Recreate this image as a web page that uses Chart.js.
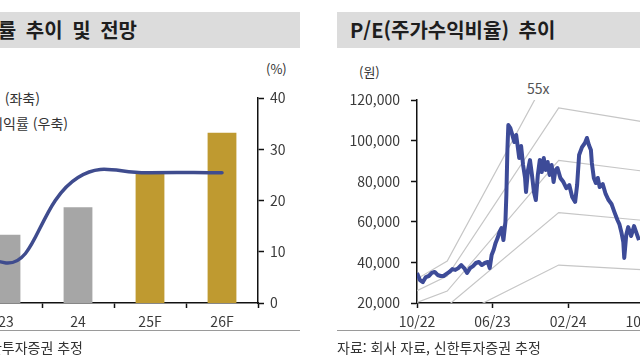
<!DOCTYPE html>
<html lang="ko">
<head>
<meta charset="UTF-8">
<title>영업이익률 추이 및 전망 / P/E(주가수익비율) 추이</title>
<script src="https://cdn.jsdelivr.net/npm/chart.js"></script>
<style>
  html, body { margin: 0; padding: 0; }
  body {
    width: 640px; height: 360px; position: relative; overflow: hidden; background: #fff;
    font-family: "Noto Sans CJK KR", "Noto Sans", sans-serif; color: #333;
  }
  .band { position: absolute; top: 12px; height: 36px; background: #dcdcdc; }
  .title { position: absolute; top: 12px; line-height: 36px; font-size: 20px; font-weight: bold; color: #1e1e1e; white-space: nowrap; word-spacing: 4px; }
  .rule { position: absolute; top: 330px; height: 1px; background: #9a9a9a; }
  .src { position: absolute; top: 338px; line-height: 18px; font-size: 14px; white-space: nowrap; color: #333; }
  .note { position: absolute; line-height: 18px; font-size: 14px; white-space: nowrap; color: #333; }
  .box { position: absolute; top: 60px; }
</style>
</head>
<body>
  <!-- left panel -->
  <div class="band" style="left:0;width:300px"></div>
  <div class="title" id="leftTitle" style="right:503px">영업이익률 추이 및 전망</div>
  <div class="note" style="right:600px;top:89px">매출액 (좌축)</div>
  <div class="note" style="right:572px;top:114px">영업이익률 (우축)</div>
  <div class="note" style="left:266px;top:60px;font-size:13px">(%)</div>
  <div class="box" style="left:-150px"><canvas id="marginChart" width="450" height="280"></canvas></div>
  <div class="rule" style="left:0;width:300px"></div>
  <div class="src" style="right:557px">자료: 회사 자료, 신한투자증권 추정</div>

  <!-- right panel -->
  <div class="band" style="left:337px;width:303px"></div>
  <div class="title" style="left:350px">P/E(주가수익비율) 추이</div>
  <div class="note" style="left:359px;top:63px;font-size:13px">(원)</div>
  <div class="note" style="left:527px;top:79px;color:#555">55x</div>
  <div class="box" style="left:330px"><canvas id="peChart" width="337" height="280"></canvas></div>
  <div class="rule" style="left:337px;width:303px"></div>
  <div class="src" style="left:337px">자료: 회사 자료, 신한투자증권 추정</div>

<script>
// ---- left chart data (연도, 매출액 좌축 / 영업이익률 우축 %) ----
const years = ['22', '23', '24', '25F', '26F'];
const salesValues = [16.0, 13.3, 18.7, 25.4, 33.2];
const marginValues = [27.0, 7.8, 24.5, 25.4, 25.4];
const marginTicks = [0, 10, 20, 30, 40];

// ---- right chart data (months from 10/22, 주가 원) ----
const xTickPos = [0, 8, 16, 24];
const xTickLabels = ['10/22', '06/23', '02/24', '10/24'];
const priceTicks = [20000, 40000, 60000, 80000, 100000, 120000];

const priceMonths = [
  0.00, 0.31, 0.62, 0.94, 1.25, 1.56, 1.87, 2.18, 2.50, 2.81,
  3.12, 3.43, 3.74, 4.06, 4.37, 4.68, 4.99, 5.30, 5.62, 5.93,
  6.24, 6.55, 6.86, 7.18, 7.49, 7.70, 7.90, 8.11, 8.32, 8.53,
  8.74, 8.94, 9.15, 9.36, 9.46, 9.57, 9.67, 9.88, 10.09, 10.30,
  10.50, 10.71, 10.82, 11.02, 11.23, 11.44, 11.54, 11.75, 11.96, 12.17,
  12.38, 12.58, 12.79, 13.00, 13.21, 13.42, 13.62, 13.83, 14.04, 14.25,
  14.46, 14.66, 14.87, 15.18, 15.50, 15.81, 16.12, 16.43, 16.74, 16.95,
  17.16, 17.47, 17.78, 17.99, 18.20, 18.41, 18.51, 18.72, 18.93, 19.14,
  19.34, 19.66, 19.97, 20.28, 20.59, 20.90, 21.22, 21.42, 21.63, 21.84,
  21.94, 22.15, 22.36, 22.67, 22.98, 23.19, 23.50
];
const priceValues = [
  34800, 31300, 30300, 32800, 33300, 34800, 35300, 33800, 33300, 33300,
  34300, 35300, 36700, 36300, 37200, 38700, 37200, 34800, 37200, 38200,
  39700, 40200, 38700, 39700, 40200, 37200, 43600, 46100, 49600, 52000,
  55000, 56900, 51000, 59900, 73200, 95400, 107700, 106200, 102800, 99300,
  102800, 95400, 91400, 97300, 88000, 81600, 74700, 85500, 90400, 83100,
  74700, 70700, 83100, 90400, 84500, 91400, 85500, 89500, 83100, 88000,
  79600, 85500, 86500, 81600, 79600, 76600, 78100, 72200, 69800, 78100,
  92900, 96800, 98800, 101300, 97800, 95400, 89000, 81600, 79100, 81600,
  77100, 78600, 73700, 70700, 68800, 64800, 60900, 58900, 55000, 50000,
  42200, 53500, 57400, 53000, 57900, 55000, 51000
];

// PER band lines (원), read at the kinks
const bandMonths = [0, 3.2, 15.0, 23.2, 26.0];
const band15x = [8700, 11100, 38700, 36600, 35900];
const band25x = [14500, 18500, 64500, 61000, 59800];
const band35x = [20300, 25900, 90300, 85400, 83700];
const band45x = [26100, 33300, 116100, 109800, 107600];
const band55x = [31900, 40700, 141900, 134200, 131500];

const tickFont = { family: '"Noto Sans CJK KR", "Noto Sans", sans-serif', size: 14 };
const axisColor = '#111';
const labelColor = '#3a3a3a';

// ---------- left: 영업이익률 ----------
new Chart(document.getElementById('marginChart'), {
  data: {
    labels: years,
    datasets: [
      {
        type: 'line', label: '영업이익률 (우축)', data: marginValues, yAxisID: 'yR', order: 0,
        borderColor: '#3f4c8e', borderWidth: 3.5, tension: 0.45, pointRadius: 0,
        borderCapStyle: 'round'
      },
      {
        type: 'bar', label: '매출액 (좌축)', data: salesValues, yAxisID: 'yL', order: 1,
        backgroundColor: ctx => years[ctx.dataIndex].endsWith('F') ? '#bf9a30' : '#a6a6a6',
        barPercentage: 0.4, categoryPercentage: 1.0
      }
    ]
  },
  options: {
    responsive: false, animation: false, devicePixelRatio: 1,
    layout: { padding: { left: 48, top: 38, right: 0, bottom: 0 } },
    plugins: { legend: { display: false }, tooltip: { enabled: false } },
    scales: {
      x: {
        grid: { offset: true, drawOnChartArea: false, tickLength: 5, tickColor: axisColor, tickWidth: 1.5 },
        border: { color: axisColor, width: 1.5 },
        ticks: { color: labelColor, font: tickFont, padding: 5 },
        afterFit: s => { s.height = 37; }
      },
      yL: { display: false, min: 0, max: 40 },
      yR: {
        position: 'right', min: 0, max: 40,
        grid: { drawOnChartArea: false, tickLength: 6, tickColor: axisColor, tickWidth: 1.5 },
        border: { color: axisColor, width: 1.5 },
        ticks: { color: labelColor, font: tickFont, padding: 6 },
        afterBuildTicks: s => { s.ticks = marginTicks.map(v => ({ value: v })); },
        afterFit: s => { s.width = 42; }
      }
    }
  }
});

// ---------- right: P/E band ----------
const toXY = (xs, ys) => xs.map((x, i) => ({ x: x, y: ys[i] }));
const bandStyle = { type: 'line', borderColor: '#c6c6c6', borderWidth: 1.2, pointRadius: 0, tension: 0, order: 1 };

new Chart(document.getElementById('peChart'), {
  data: {
    datasets: [
      {
        type: 'line', label: '주가', data: toXY(priceMonths, priceValues), order: 0,
        borderColor: '#3d4b98', borderWidth: 4, pointRadius: 0, tension: 0,
        borderJoinStyle: 'round'
      },
      Object.assign({ label: '15x', data: toXY(bandMonths, band15x) }, bandStyle),
      Object.assign({ label: '25x', data: toXY(bandMonths, band25x) }, bandStyle),
      Object.assign({ label: '35x', data: toXY(bandMonths, band35x) }, bandStyle),
      Object.assign({ label: '45x', data: toXY(bandMonths, band45x) }, bandStyle),
      Object.assign({ label: '55x', data: toXY(bandMonths, band55x) }, bandStyle)
    ]
  },
  options: {
    responsive: false, animation: false, devicePixelRatio: 1,
    layout: { padding: { left: 0, top: 40, right: 0, bottom: 0 } },
    plugins: { legend: { display: false }, tooltip: { enabled: false } },
    scales: {
      x: {
        type: 'linear', min: 0, max: 26,
        grid: { drawOnChartArea: false, tickLength: 5, tickColor: axisColor, tickWidth: 1.5 },
        border: { color: axisColor, width: 1.5 },
        ticks: {
          color: labelColor, font: tickFont, padding: 5, maxRotation: 0,
          callback: v => xTickLabels[xTickPos.indexOf(v)]
        },
        afterBuildTicks: s => { s.ticks = xTickPos.map(v => ({ value: v })); },
        afterFit: s => { s.height = 37; }
      },
      y: {
        min: 20000, max: 120000,
        grid: { drawOnChartArea: false, tickLength: 6, tickColor: axisColor, tickWidth: 1.5 },
        border: { color: axisColor, width: 1.5 },
        ticks: { color: labelColor, font: tickFont, padding: 11, callback: v => v.toLocaleString('en-US') },
        afterBuildTicks: s => { s.ticks = priceTicks.map(v => ({ value: v })); },
        afterFit: s => { s.width = 87; }
      }
    }
  }
});

// keep the cropped left title flush to x=137 whatever the glyph widths are
const lt = document.getElementById('leftTitle');
const ltWidth = lt.getBoundingClientRect().width;
lt.style.right = 'auto';
lt.style.left = (137 - ltWidth) + 'px';
</script>
</body>
</html>
